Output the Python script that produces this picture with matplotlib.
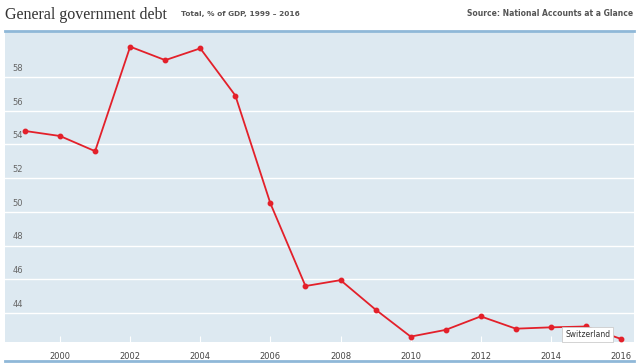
import matplotlib.pyplot as plt
from matplotlib.lines import Line2D

years = list(range(1999, 2017))
debt = [54.8, 54.5, 53.6, 59.8, 59.0, 59.7, 56.9, 50.5, 45.6, 45.95, 44.2,
        42.6, 43.0, 43.8, 43.07, 43.15, 43.2, 42.46]
yticks = [44, 46, 48, 50, 52, 54, 56, 58]
xticks = [2000, 2002, 2004, 2006, 2008, 2010, 2012, 2014, 2016]

fig = plt.figure(figsize=(6.4, 3.64), dpi=100)
ax = fig.add_axes([5 / 640, 1 - 342 / 364, 629 / 640, 311 / 364])
ax.set_facecolor('#dde9f1')
ax.plot(years, debt, color='#e3202a', lw=1.3, marker='o', ms=3.2, zorder=3)

ax.set_xlim(1998.43, 2016.37)
ax.set_ylim(42.28, 60.73)
ax.set_yticks(yticks)
ax.yaxis.grid(True, color='white', lw=1)
ax.tick_params(axis='y', length=0, labelleft=False)
for v in yticks:
    ax.text(1998.65, v + 0.25, str(v), fontsize=6, color='#666666', va='bottom', ha='left')
ax.set_xticks(xticks)
ax.set_xticklabels([str(x) for x in xticks], fontsize=6, color='#444444')
ax.tick_params(axis='x', length=4, direction='in', color='white', pad=7)
for s in ax.spines.values():
    s.set_visible(False)

# top and bottom rules
fig.add_artist(Line2D([5 / 640, 634 / 640], [1 - 31 / 364] * 2, color='#8fb8d8', lw=2))
fig.add_artist(Line2D([5 / 640, 634 / 640], [1 - 361 / 364] * 2, color='#8fb8d8', lw=2))

fig.text(5 / 640, 1 - 15 / 364, 'General government debt', family='Liberation Serif',
         fontsize=11.5, color='#333333', va='center')
fig.text(181 / 640, 1 - 14 / 364, 'Total, % of GDP, 1999 \u2013 2016', fontsize=5.3,
         color='#555555', fontweight='bold', va='center')
fig.text(633 / 640, 1 - 14 / 364, 'Source: National Accounts at a Glance', fontsize=5.5,
         color='#555555', fontweight='bold', va='center', ha='right')

ax.annotate('Switzerland', xy=(2016, 42.46), xytext=(2015.05, 42.7), fontsize=5.5,
            color='#333333', ha='center', va='center',
            bbox=dict(boxstyle='square,pad=0.4', fc='white', ec='#cccccc', lw=0.6))

fig.savefig('out.png', dpi=100)
